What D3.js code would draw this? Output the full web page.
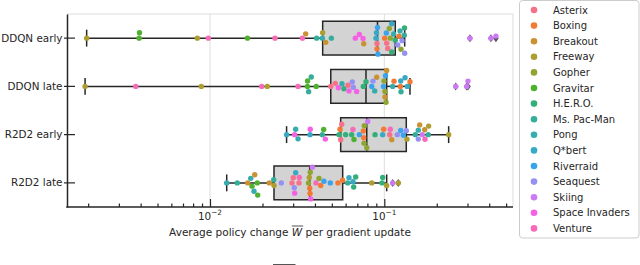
<!DOCTYPE html>
<html>
<head>
    <meta charset="utf-8"/>
    <style>
        body { margin: 0; background: #fff; }
        svg { display: block; }
        text { font-family: "DejaVu Sans", sans-serif; fill: #262626; }
        #x-axis path, #y-axis path { stroke: #262626; stroke-width: 1.5; }
        #x-axis line, #y-axis line, #x-minor line { stroke: #262626; stroke-width: 1.2; }
    </style>
</head>
<body>
<svg id="graph" width="640" height="265"></svg>

<script src="https://d3js.org/d3.v7.min.js"></script>
<script>
    // Rows of the plot, top to bottom
    const categories = ["DDQN early", "DDQN late", "R2D2 early", "R2D2 late"];
    // Hue order of the legend
    const games = ["Asterix", "Boxing", "Breakout", "Freeway", "Gopher", "Gravitar", "H.E.R.O.",
        "Ms. Pac-Man", "Pong", "Q*bert", "Riverraid", "Seaquest", "Skiing", "Space Invaders", "Venture"];
    const xTicks = [0.01, 0.1];
    const xTickExp = ["\u22122", "\u22121"];

    // One [game, average policy change] pair per run
    const ddqnEarly = [
        ["Freeway", 0.00196], ["Gravitar", 0.00392], ["Gravitar", 0.00394], ["Freeway", 0.00846],
        ["Venture", 0.00978], ["Gravitar", 0.0164], ["Venture", 0.0236], ["Venture", 0.0339],
        ["Breakout", 0.0354], ["Ms. Pac-Man", 0.0409], ["Pong", 0.0441], ["Freeway", 0.0443],
        ["Breakout", 0.0461], ["Ms. Pac-Man", 0.0497], ["Space Invaders", 0.0682], ["Space Invaders", 0.0719],
        ["Space Invaders", 0.0755], ["Breakout", 0.0762], ["Q*bert", 0.0896], ["Q*bert", 0.0902],
        ["Asterix", 0.0908], ["Boxing", 0.0908], ["Riverraid", 0.0914], ["Riverraid", 0.0920],
        ["Boxing", 0.1005], ["Riverraid", 0.1027], ["Asterix", 0.1032], ["Asterix", 0.1046],
        ["Gopher", 0.1068], ["Gopher", 0.1082], ["H.E.R.O.", 0.1103], ["Q*bert", 0.1103],
        ["Pong", 0.1132], ["H.E.R.O.", 0.1156], ["Seaquest", 0.1194], ["Boxing", 0.1214],
        ["Pong", 0.1231], ["Gopher", 0.1247], ["Seaquest", 0.1264], ["Ms. Pac-Man", 0.1302],
        ["H.E.R.O.", 0.1306], ["Seaquest", 0.1309], ["Skiing", 0.310], ["Skiing", 0.409], ["Skiing", 0.437]
    ];
    const ddqnLate = [
        ["Freeway", 0.00192], ["Venture", 0.00375], ["Freeway", 0.00891], ["Venture", 0.0198],
        ["Freeway", 0.0213], ["Venture", 0.0320], ["Gravitar", 0.0362], ["Gravitar", 0.0363],
        ["Ms. Pac-Man", 0.0368], ["Ms. Pac-Man", 0.0381], ["Gravitar", 0.0407], ["Asterix", 0.0493],
        ["Asterix", 0.0523], ["Space Invaders", 0.0545], ["Pong", 0.0572], ["H.E.R.O.", 0.0587],
        ["Asterix", 0.0619], ["Space Invaders", 0.0627], ["Seaquest", 0.0655], ["Seaquest", 0.0664],
        ["Space Invaders", 0.0694], ["H.E.R.O.", 0.0758], ["H.E.R.O.", 0.0785], ["Riverraid", 0.0847],
        ["Seaquest", 0.0861], ["Pong", 0.0881], ["Breakout", 0.0905], ["Riverraid", 0.0989],
        ["Gopher", 0.0996], ["Gopher", 0.1009], ["Breakout", 0.1009], ["Riverraid", 0.1016],
        ["Gopher", 0.1023], ["Breakout", 0.1032], ["Pong", 0.1117], ["Boxing", 0.1137],
        ["Boxing", 0.1236], ["Q*bert", 0.1242], ["Ms. Pac-Man", 0.1247], ["Q*bert", 0.1315],
        ["Q*bert", 0.1355], ["Boxing", 0.1404], ["Skiing", 0.257], ["Skiing", 0.297], ["Skiing", 0.302]
    ];
    const r2d2Early = [
        ["Q*bert", 0.0275], ["Space Invaders", 0.0306], ["Pong", 0.0310], ["Pong", 0.0320],
        ["Q*bert", 0.0375], ["Space Invaders", 0.0376], ["Ms. Pac-Man", 0.0441], ["Gravitar", 0.0449],
        ["Space Invaders", 0.0459], ["H.E.R.O.", 0.0550], ["Boxing", 0.0557], ["Asterix", 0.0562],
        ["Asterix", 0.0570], ["H.E.R.O.", 0.0600], ["H.E.R.O.", 0.0650], ["Venture", 0.0661],
        ["Gravitar", 0.0670], ["Riverraid", 0.0719], ["Boxing", 0.0758], ["Boxing", 0.0762],
        ["Gopher", 0.0765], ["Gopher", 0.0768], ["Gopher", 0.0793], ["Skiing", 0.0803],
        ["H.E.R.O.", 0.0885], ["Q*bert", 0.0979], ["Boxing", 0.0992], ["Asterix", 0.1074],
        ["Venture", 0.1082], ["Breakout", 0.1103], ["Seaquest", 0.1187], ["Riverraid", 0.1242],
        ["Riverraid", 0.1285], ["Seaquest", 0.1337], ["Freeway", 0.1349], ["Ms. Pac-Man", 0.1506],
        ["Pong", 0.1567], ["Seaquest", 0.1567], ["Breakout", 0.1596], ["Skiing", 0.1652],
        ["Breakout", 0.1705], ["Venture", 0.1712], ["Ms. Pac-Man", 0.1788], ["Freeway", 0.1796],
        ["Freeway", 0.234]
    ];
    const r2d2Late = [
        ["Pong", 0.01247], ["Ms. Pac-Man", 0.01434], ["Breakout", 0.01646], ["Pong", 0.01712],
        ["Gravitar", 0.01742], ["Pong", 0.01788], ["Breakout", 0.01805], ["Gravitar", 0.01868],
        ["Gravitar", 0.01878], ["Breakout", 0.02189], ["Ms. Pac-Man", 0.0232], ["Freeway", 0.02329],
        ["Seaquest", 0.02565], ["Asterix", 0.02954], ["Asterix", 0.03005], ["Seaquest", 0.03045],
        ["Space Invaders", 0.0306], ["Q*bert", 0.0310], ["Asterix", 0.0324], ["Venture", 0.03253],
        ["Gopher", 0.03673], ["Freeway", 0.03712], ["Boxing", 0.03733], ["Boxing", 0.0375],
        ["Gopher", 0.0376], ["Space Invaders", 0.03782], ["Skiing", 0.03863], ["Venture", 0.04056],
        ["Gopher", 0.04221], ["Boxing", 0.04316], ["Riverraid", 0.04508], ["Riverraid", 0.0490],
        ["Boxing", 0.05425], ["Boxing", 0.05771], ["Ms. Pac-Man", 0.06166], ["Q*bert", 0.0627],
        ["Q*bert", 0.0661], ["H.E.R.O.", 0.06674], ["H.E.R.O.", 0.06853], ["Freeway", 0.0847],
        ["H.E.R.O.", 0.0970], ["H.E.R.O.", 0.0979], ["Freeway", 0.1032], ["Skiing", 0.1117],
        ["Freeway", 0.1203]
    ];
    const rows = [ddqnEarly, ddqnLate, r2d2Early, r2d2Late];

    // seaborn's husl palette (old HUSL colour space)
    function huslToRgb(h, s, l) {
        const m = [[3.2406, -1.5372, -0.4986], [-0.9689, 1.8758, 0.0415], [0.0557, -0.2040, 1.0570]];
        const refU = 0.19784, refV = 0.46834, labE = 0.008856, labK = 903.3;
        const hrad = h / 360 * 2 * Math.PI;
        const sinH = Math.sin(hrad), cosH = Math.cos(hrad);
        const sub1 = Math.pow(l + 16, 3) / 1560896;
        const sub2 = sub1 > labE ? sub1 : l / labK;
        let maxC = Infinity;
        m.forEach(function(r) {
            const tp = (0.99915 * r[0] + 1.05122 * r[1] + 1.14460 * r[2]) * sub2;
            const rb = 0.86330 * r[2] - 0.17266 * r[1];
            const lb = 0.12949 * r[2] - 0.38848 * r[0];
            const bt = (rb * sinH + lb * cosH) * sub2;
            [0, 1].forEach(function(t) {
                const c = l * (tp - 1.05122 * t) / (bt + 0.17266 * sinH * t);
                if (c > 0 && c < maxC) maxC = c;
            });
        });
        const C = maxC / 100 * s;
        const U = Math.cos(hrad) * C, V = Math.sin(hrad) * C;
        const t = (l + 16) / 116;
        const Y = Math.pow(t, 3) > labE ? Math.pow(t, 3) : (116 * t - 16) / labK;
        const varU = U / (13 * l) + refU, varV = V / (13 * l) + refV;
        const X = -(9 * Y * varU) / ((varU - 4) * varV - varU * varV);
        const Z = (9 * Y - 15 * varV * Y - varV * X) / (3 * varV);
        return m.map(function(r) {
            const c = r[0] * X + r[1] * Y + r[2] * Z;
            const v = c <= 0.0031308 ? 12.92 * c : 1.055 * Math.pow(c, 1 / 2.4) - 0.055;
            return Math.round(Math.max(0, Math.min(1, v)) * 255);
        });
    }
    const palette = games.map(function(g, i) {
        const h = ((i / games.length) + 0.01) % 1 * 359;
        const c = huslToRgb(h, 0.9 * 99, 0.65 * 99);
        return d3.rgb(c[0], c[1], c[2]).formatHex();
    });

    // plot area (avoid the global names top/left etc.)
    var pLeft = 67, pRight = 513, pTop = 14, pBottom = 207;
    var chart = d3.select('#graph');

    var xScale = d3.scaleLog().domain([0.001512, 0.5475]).range([pLeft, pRight]);
    var yScale = d3.scaleBand().domain(categories).range([pTop, pBottom]);
    var color = d3.scaleOrdinal().domain(games).range(palette);
    var boxH = yScale.bandwidth() * 0.7;

    // grid lines and light top/right frame
    chart.append('g').selectAll('line').data(xTicks).enter().append('line')
        .attr('x1', d => xScale(d)).attr('x2', d => xScale(d))
        .attr('y1', pTop).attr('y2', pBottom)
        .attr('stroke', '#dddddd').attr('stroke-width', 1);
    chart.append('path')
        .attr('d', 'M' + pLeft + ',' + pTop + 'H' + pRight + 'V' + pBottom)
        .attr('fill', 'none').attr('stroke', '#dddddd').attr('stroke-width', 1);

    // boxes
    var boxes = chart.append('g').attr('id', 'boxes');
    rows.forEach(function(row, i) {
        var cy = yScale(categories[i]) + yScale.bandwidth() / 2;
        var v = row.map(d => d[1]).sort(d3.ascending);
        var q1 = d3.quantileSorted(v, 0.25), med = d3.quantileSorted(v, 0.5), q3 = d3.quantileSorted(v, 0.75);
        var iqr = q3 - q1;
        var lo = d3.min(v.filter(d => d >= q1 - 1.5 * iqr));
        var hi = d3.max(v.filter(d => d <= q3 + 1.5 * iqr));
        var fliers = v.filter(d => d < lo || d > hi);
        var g = boxes.append('g').attr('stroke', '#262626').attr('stroke-width', 1.5);
        g.append('line').attr('x1', xScale(lo)).attr('x2', xScale(q1)).attr('y1', cy).attr('y2', cy);
        g.append('line').attr('x1', xScale(q3)).attr('x2', xScale(hi)).attr('y1', cy).attr('y2', cy);
        [lo, hi].forEach(function(w) {
            g.append('line').attr('x1', xScale(w)).attr('x2', xScale(w))
                .attr('y1', cy - boxH / 4).attr('y2', cy + boxH / 4);
        });
        g.append('rect')
            .attr('x', xScale(q1)).attr('y', cy - boxH / 2)
            .attr('width', xScale(q3) - xScale(q1)).attr('height', boxH)
            .attr('fill', '#d3d3d3');
        g.append('line').attr('x1', xScale(med)).attr('x2', xScale(med))
            .attr('y1', cy - boxH / 2).attr('y2', cy + boxH / 2);
        g.selectAll('.flier').data(fliers).enter().append('path')
            .attr('class', 'flier')
            .attr('d', d => 'M' + xScale(d) + ',' + (cy - 4) + 'l2.8,4l-2.8,4l-2.8,-4z')
            .attr('fill', '#555555').attr('stroke', 'none');
    });

    // swarm: place points in value order, nearest free spot to the centre line
    var dotR = 2.7, gap = 5.4;
    var dots = chart.append('g').attr('id', 'dots');
    rows.forEach(function(row, i) {
        var cy = yScale(categories[i]) + yScale.bandwidth() / 2;
        var pts = row.map(d => ({game: d[0], x: xScale(d[1])})).sort((a, b) => a.x - b.x);
        var placed = [];
        pts.forEach(function(p) {
            var nb = placed.filter(q => Math.abs(q.x - p.x) < gap);
            var cands = [0];
            nb.forEach(function(q) {
                var h = Math.sqrt(gap * gap - (q.x - p.x) * (q.x - p.x));
                cands.push(q.off - h, q.off + h);
            });
            cands.sort((a, b) => (Math.abs(a) - Math.abs(b)) || (a - b));
            p.off = cands.find(c => nb.every(q => (q.x - p.x) ** 2 + (q.off - c) ** 2 >= gap * gap - 1e-6));
            placed.push(p);
        });
        dots.selectAll('.row' + i).data(placed).enter().append('circle')
            .attr('class', 'row' + i)
            .attr('cx', d => d.x).attr('cy', d => cy + d.off).attr('r', dotR)
            .attr('fill', d => color(d.game));
    });

    // axes
    var yAxis = chart.append('g').attr('id', 'y-axis')
        .attr('transform', 'translate(' + pLeft + ',0)')
        .call(d3.axisLeft(yScale).tickSizeInner(-8).tickSizeOuter(0).tickPadding(0));
    yAxis.selectAll('.tick line').attr('x1', -3);
    yAxis.selectAll('.tick text').attr('x', -4.5).attr('dy', '0.33em')
        .style('font-size', '10.4px').style('font-family', '"DejaVu Sans", sans-serif').attr('fill', '#262626');

    var minor = [];
    [0.001, 0.01, 0.1].forEach(function(dec) {
        for (var k = 2; k <= 9; k++) minor.push(dec * k);
    });
    minor = minor.filter(d => d > xScale.domain()[0] && d < xScale.domain()[1]);
    chart.append('g').attr('id', 'x-minor')
        .attr('transform', 'translate(0,' + pBottom + ')')
        .call(d3.axisBottom(xScale).tickValues(minor).tickSize(-3.5).tickFormat(''))
        .select('.domain').remove();
    var xAxis = chart.append('g').attr('id', 'x-axis')
        .attr('transform', 'translate(0,' + pBottom + ')')
        .call(d3.axisBottom(xScale).tickValues(xTicks).tickSizeInner(-8).tickSizeOuter(0).tickFormat(''));
    xAxis.select('.domain').attr('d', 'M' + (pLeft - 0.75) + ',0H' + pRight);

    var xLabels = chart.append('g');
    xTicks.forEach(function(t, i) {
        var txt = xLabels.append('text')
            .attr('x', xScale(t)).attr('y', 219.5)
            .attr('text-anchor', 'middle').style('font-size', '10.4px');
        txt.append('tspan').text('10');
        txt.append('tspan').attr('dy', -4.5).style('font-size', '7.3px').text(xTickExp[i]);
    });

    // axis title with overlined italic W
    var title = chart.append('text')
        .attr('x', (pLeft + pRight) / 2).attr('y', 236)
        .attr('text-anchor', 'middle').style('font-size', '10.5px');
    title.append('tspan').text('Average policy change ');
    title.append('tspan').style('font-style', 'italic').text('W');
    title.append('tspan').text(' per gradient update');
    var wIndex = 'Average policy change '.length;
    var wStart = title.node().getStartPositionOfChar(wIndex);
    var wEnd = title.node().getEndPositionOfChar(wIndex);
    chart.append('line')
        .attr('x1', wStart.x).attr('x2', wEnd.x + 1)
        .attr('y1', 226).attr('y2', 226)
        .attr('stroke', '#262626').attr('stroke-width', 0.8);

    // legend
    var legend = chart.append('g').attr('id', 'legend');
    legend.append('rect')
        .attr('x', 519.5).attr('y', 0.5).attr('width', 119.5).attr('height', 237.5)
        .attr('rx', 3).attr('fill', '#ffffff').attr('stroke', '#cccccc');
    var items = legend.selectAll('.item').data(games).enter().append('g')
        .attr('class', 'item')
        .attr('transform', (d, i) => 'translate(0,' + (10 + i * 15.6) + ')');
    items.append('circle').attr('cx', 534).attr('r', 3.3).attr('fill', d => color(d));
    items.append('text').attr('x', 553).attr('y', 3.6).style('font-size', '10px').text(d => d);

    // clipped overline from the caption below
    chart.append('line')
        .attr('x1', 273).attr('x2', 295.5).attr('y1', 264.5).attr('y2', 264.5)
        .attr('stroke', '#555555').attr('stroke-width', 1);
</script>
</body>
</html>
